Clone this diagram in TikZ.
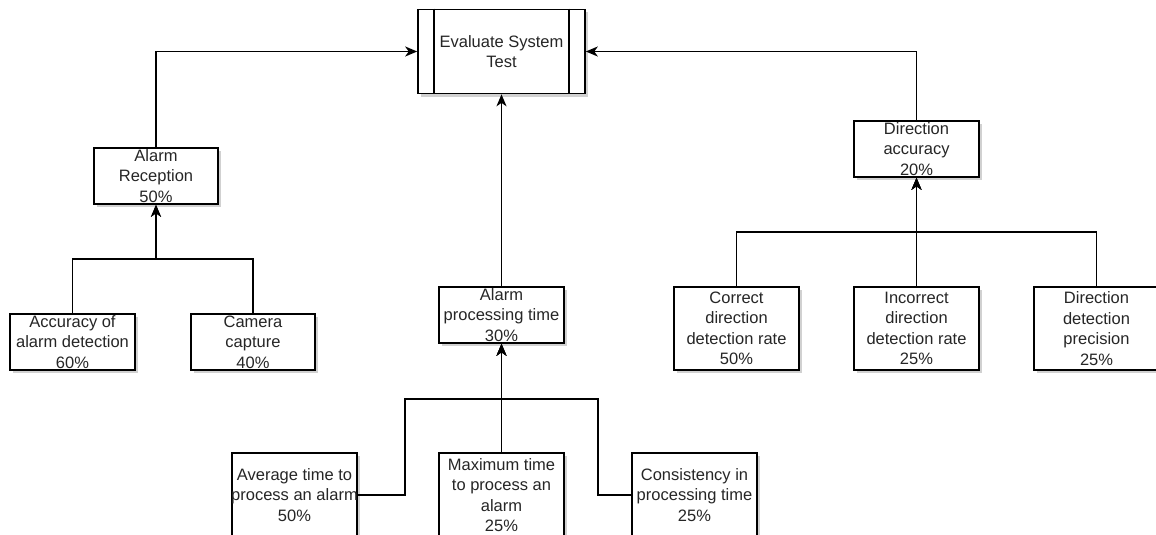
\documentclass[tikz,border=0pt]{standalone}
\usepackage{fontspec}
\setmainfont{Liberation Sans}
\usetikzlibrary{arrows.meta,shadows}

\tikzset{
  box/.style={draw=black, line width=1.6pt, fill=white, inner sep=0pt,
    drop shadow={shadow xshift=3pt, shadow yshift=-3pt, opacity=0.18, fill=black}},
  txt/.style={inner sep=0pt, align=center, text=black!85,
    font=\fontsize{16.5}{20.5}\selectfont},
  link/.style={draw=black, line width=1.6pt},
  arr/.style={link, -{Stealth[length=12pt, width=10pt, inset=3.5pt]}},
}

\begin{document}
\begin{tikzpicture}[x=1pt, y=-1pt]
  \useasboundingbox (0,0) rectangle (1156,535);
  \clip (0,0) rectangle (1156,535);

  % root: process box with inner side bars
  \node[box, minimum width=167pt, minimum height=84pt] (top) at (501.5,51.5) {};
  \draw[link] ([xshift=17pt]top.north west) -- ([xshift=17pt]top.south west);
  \draw[link] ([xshift=-17pt]top.north east) -- ([xshift=-17pt]top.south east);
  \node[txt] (top-t) at (top) {Evaluate System\\Test};

  % first level
  \node[box, minimum width=124pt, minimum height=56pt] (ar) at (156,176) {};
  \node[txt] (ar-t) at (ar) {Alarm\\Reception\\50\%};
  \node[box, minimum width=125pt, minimum height=56pt] (apt) at (501.5,315) {};
  \node[txt] (apt-t) at (apt) {Alarm\\processing time\\30\%};
  \node[box, minimum width=125pt, minimum height=56pt] (da) at (916.5,149) {};
  \node[txt] (da-t) at (da) {Direction\\accuracy\\20\%};

  % alarm reception children
  \node[box, minimum width=125pt, minimum height=56pt] (acc) at (72.5,342) {};
  \node[txt] (acc-t) at (acc) {Accuracy of\\alarm detection\\60\%};
  \node[box, minimum width=124pt, minimum height=56pt] (cam) at (253,342) {};
  \node[txt] (cam-t) at (cam) {Camera\\capture\\40\%};

  % processing time children
  \node[box, minimum width=125pt, minimum height=84pt] (avg) at (294.5,495) {};
  \node[txt] (avg-t) at (avg) {Average time to\\process an alarm\\50\%};
  \node[box, minimum width=125pt, minimum height=84pt] (max) at (501.5,495) {};
  \node[txt] (max-t) at (max) {Maximum time\\to process an\\alarm\\25\%};
  \node[box, minimum width=125pt, minimum height=84pt] (con) at (694.5,495) {};
  \node[txt] (con-t) at (con) {Consistency in\\processing time\\25\%};

  % direction accuracy children
  \node[box, minimum width=125pt, minimum height=83pt] (cor) at (736.5,328.5) {};
  \node[txt] (cor-t) at (cor) {Correct\\direction\\detection rate\\50\%};
  \node[box, minimum width=125pt, minimum height=83pt] (inc) at (916.5,328.5) {};
  \node[txt] (inc-t) at (inc) {Incorrect\\direction\\detection rate\\25\%};
  \node[box, minimum width=125pt, minimum height=83pt] (pre) at (1096.5,328.5) {};
  \node[txt] (pre-t) at (pre) {Direction\\detection\\precision\\25\%};

  % junction points of the branch lines
  \coordinate (arbus) at (156,259);
  \coordinate (aptbus) at (501.5,399);
  \coordinate (dabus) at (916.5,232);

  % first level to root
  \draw[arr] (ar.north) |- (top.west);
  \draw[arr] (apt.north) -- (top.south);
  \draw[arr] (da.north) |- (top.east);

  % children to alarm reception
  \draw[arr] (acc.north) |- (arbus) -- (ar.south);
  \draw[arr] (cam.north) |- (arbus) -- (ar.south);

  % children to processing time
  \draw[arr] (avg.east) -- ++(47,0) |- (aptbus) -- (apt.south);
  \draw[arr] (max.north) -- (apt.south);
  \draw[arr] (con.west) -- ++(-33,0) |- (aptbus) -- (apt.south);

  % children to direction accuracy
  \draw[arr] (cor.north) |- (dabus) -- (da.south);
  \draw[arr] (inc.north) -- (da.south);
  \draw[arr] (pre.north) |- (dabus) -- (da.south);
\end{tikzpicture}
\end{document}
